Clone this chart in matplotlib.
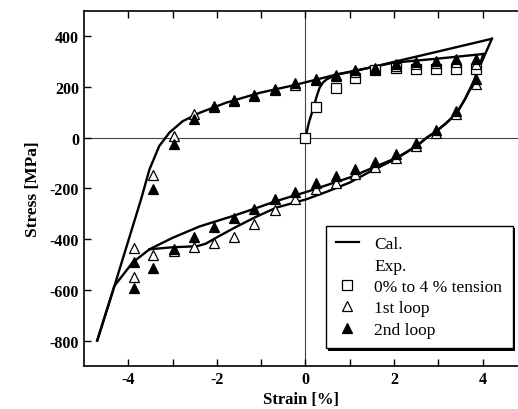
'''
Stress-strain loops: calculation vs. experiment.
'''
import matplotlib
matplotlib.use('Agg')
import matplotlib.pyplot as plt
from matplotlib.lines import Line2D
from matplotlib.patches import Rectangle

plt.rcParams['font.family'] = ['Liberation Serif', 'DejaVu Serif']
plt.rcParams['axes.unicode_minus'] = False

# calculated curves (strain %, stress MPa)
cal_tension_x = [0, 0.08, 0.17, 0.25, 0.32, 0.40, 0.48, 0.70, 0.95, 1.5, 2.0, 3.0, 4.21]
cal_tension_y = [0, 60, 111, 160, 197, 218, 230, 249, 257, 278, 299, 340, 390]

cal_unload1_x = [4.21, 3.94, 3.79, 3.60, 3.42, 3.19, 2.96, 2.74, 2.51, 2.06, 1.5, 1.0, 0.5, 0.02,
                 -0.66, -1.15, -1.6, -2.01, -2.25, -2.45, -3.0, -3.52, -3.90, -4.31, -4.70]
cal_unload1_y = [390, 282, 216, 151, 98, 59, 26, 0, -33, -82, -130, -177, -212, -243,
                 -276, -315, -355, -394, -418, -428, -432, -440, -492, -584, -800]

cal_reload_x = [-4.70, -4.31, -3.71, -3.52, -3.30, -3.07, -2.77, -2.39, -1.79, -1.03, -0.28,
                0.70, 2.0, 3.0, 4.02]
cal_reload_y = [-800, -584, -243, -125, -33, 20, 65, 98, 138, 177, 206, 249, 296, 312, 330]

cal_unload2_x = [4.02, 3.92, 3.80, 3.60, 3.42, 3.19, 2.96, 2.74, 2.51, 2.06, 1.0, 0.02,
                 -0.66, -1.15, -1.64, -2.39, -3.0, -3.52]
cal_unload2_y = [330, 280, 222, 151, 98, 59, 26, 0, -33, -79, -157, -214,
                 -250, -280, -309, -350, -395, -440]

# experiment: 0% to 4% tension
sq_x = [0, 0.23, 0.68, 1.13, 1.58, 2.04, 2.49, 2.94, 3.39, 3.85]
sq_y = [0, 122, 197, 236, 265, 276, 272, 269, 272, 272]

# experiment: 1st loop
loop1_x = [-3.43, -2.97, -2.52, -2.07, -1.62, -1.15, -0.69, -0.24, 0.23, 0.68, 1.13, 1.58,
           2.04, 2.49, 2.94, 3.39, 3.85,
           3.85, 3.39, 2.94, 2.49, 2.04, 1.58, 1.13, 0.68, 0.23, -0.24, -0.69, -1.15,
           -1.62, -2.07, -2.52, -2.97, -3.43, -3.88, -3.88]
loop1_y = [-148, 6, 92, 122, 146, 166, 189, 208, 226, 245, 260, 272,
           284, 290, 294, 298, 290,
           210, 92, 20, -33, -79, -114, -144, -177, -203, -243, -286, -341,
           -390, -417, -431, -445, -463, -436, -549]

# experiment: 2nd loop
loop2_x = [-3.43, -2.97, -2.52, -2.07, -1.62, -1.15, -0.69, -0.24, 0.23, 0.68, 1.13, 1.58,
           2.04, 2.49, 2.94, 3.39, 3.85,
           3.85, 3.39, 2.94, 2.49, 2.04, 1.58, 1.13, 0.68, 0.23, -0.24, -0.69, -1.15,
           -1.62, -2.07, -2.52, -2.97, -3.43, -3.88, -3.88]
loop2_y = [-201, -24, 72, 124, 148, 170, 193, 214, 233, 249, 266, 276,
           292, 299, 304, 311, 311,
           233, 105, 30, -22, -66, -96, -122, -151, -177, -213, -243, -280,
           -318, -352, -391, -440, -512, -492, -591]

fig = plt.figure(figsize=(5.18, 4.10), dpi=100)
ax = fig.add_axes([0.162, 0.105, 0.838, 0.866])

#zero lines
ax.axhline(0, color='#444444', lw=0.8, zorder=1)
ax.axvline(0, color='#444444', lw=0.8, zorder=1)

for cx, cy in [(cal_tension_x, cal_tension_y), (cal_unload1_x, cal_unload1_y),
               (cal_reload_x, cal_reload_y), (cal_unload2_x, cal_unload2_y)]:
    ax.plot(cx, cy, color='black', lw=1.7, zorder=2)

ms = 7.5
ax.plot(sq_x, sq_y, 's', ms=ms, mfc='white', mec='black', mew=0.9, zorder=3)
ax.plot(loop1_x, loop1_y, '^', ms=ms, mfc='white', mec='black', mew=0.9, zorder=3)
ax.plot(loop2_x, loop2_y, '^', ms=ms, mfc='black', mec='black', mew=0.9, zorder=4)

ax.set_xlim(-5, 4.8)
ax.set_ylim(-900, 500)
ax.set_xticks([-4, -2, 0, 2, 4])
ax.set_xticks([-3, -1, 1, 3], minor=True)
ax.set_yticks([-800, -600, -400, -200, 0, 200, 400])
ax.tick_params(which='both', direction='in', top=True, right=False, length=5, width=1)
ax.spines['right'].set_visible(False)
for s in ['left', 'bottom', 'top']:
    ax.spines[s].set_linewidth(1.2)
for lbl in ax.get_xticklabels() + ax.get_yticklabels():
    lbl.set_fontweight('bold')
    lbl.set_fontsize(11.5)

ax.set_xlabel('Strain [%]', fontsize=12, fontweight='bold', labelpad=3)
ax.set_ylabel('Stress [MPa]', fontsize=12.5, fontweight='bold', labelpad=6)

handles = [
    Line2D([], [], color='black', lw=1.6),
    Line2D([], [], ls='none'),
    Line2D([], [], ls='none', marker='s', ms=ms, mfc='white', mec='black', mew=0.9),
    Line2D([], [], ls='none', marker='^', ms=ms, mfc='white', mec='black', mew=0.9),
    Line2D([], [], ls='none', marker='^', ms=ms, mfc='black', mec='black', mew=0.9),
]
labels = ['Cal.', 'Exp.', '0% to 4 % tension', '1st loop', '2nd loop']
leg = ax.legend(handles, labels, loc='lower right', bbox_to_anchor=(0.988, 0.05),
                borderaxespad=0, fontsize=12.5, handlelength=1.3, handletextpad=0.9,
                labelspacing=0.3, fancybox=False, framealpha=1, edgecolor='black',
                borderpad=0.6)
leg.get_frame().set_linewidth(1.0)

#thin black drop shadow behind the legend
fig.canvas.draw()
bb = leg.get_window_extent().transformed(fig.transFigure.inverted())
dx, dy = 2.5 / 518, 2.5 / 410
ax.add_patch(Rectangle((bb.x0 + dx, bb.y0 - dy), bb.width, bb.height,
                       transform=fig.transFigure, facecolor='black', edgecolor='none',
                       zorder=4.9, clip_on=False))

plt.savefig('out.png', dpi=100)
